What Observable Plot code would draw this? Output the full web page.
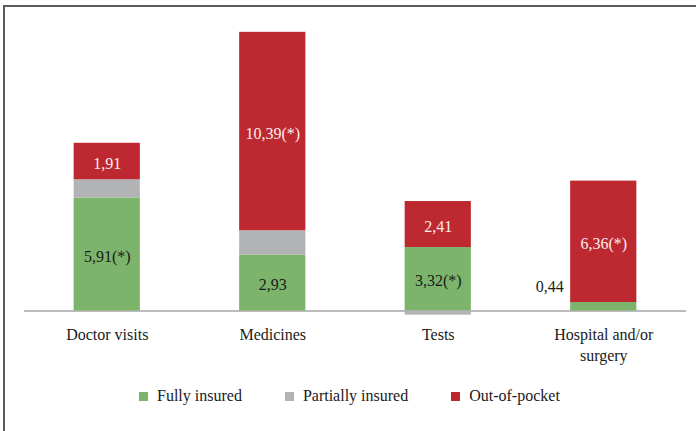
<!DOCTYPE html>
<html><head><meta charset="utf-8">
<script src="https://cdn.jsdelivr.net/npm/d3@7"></script>
<script src="https://cdn.jsdelivr.net/npm/@observablehq/plot@0.6"></script>
<style>
html,body{margin:0;padding:0;background:#fff;overflow:hidden;width:696px;height:431px;}
#frame{position:absolute;left:3px;top:5px;width:800px;height:800px;border-left:2px solid #5c5c5c;border-top:2px solid #5c5c5c;}
#chart{position:absolute;left:0;top:0;}
#legend{position:absolute;left:139px;top:386px;height:20px;display:flex;align-items:center;gap:43px;font:16px "Liberation Serif",serif;color:#1a1a1a;}
.item{display:flex;align-items:center;white-space:nowrap;}
.sw{width:9px;height:9px;margin-right:9px;}
</style></head><body>
<div id="frame"></div><div id="chart"></div><div id="legend"></div>
<script>
const categories = ["Doctor visits","Medicines","Tests","Hospital and/or surgery"];
const tickLabels = ["Doctor visits","Medicines","Tests","Hospital and/or\nsurgery"];
const series = ["Fully insured","Partially insured","Out-of-pocket"];
const colors = ["#7bb46a","#b2b3b5","#be2830"];
const fullyInsured = [5.91, 2.93, 3.32, 0.44];
const partiallyInsured = [0.96, 1.27, -0.22, 0];
const outOfPocket = [1.91, 10.39, 2.41, 6.36];
const fullyLabels = ["5,91(*)", "2,93", "3,32(*)", null];
const oopLabels = ["1,91", "10,39(*)", "2,41", "6,36(*)"];
const outsideLabels = [null, null, null, "0,44"];

const valuesBySeries = [fullyInsured, partiallyInsured, outOfPocket];
const labelsBySeries = [fullyLabels, [null,null,null,null], oopLabels];
const rows = [];
series.forEach((s, si) => {
  categories.forEach((c, ci) => {
    rows.push({category: c, series: s, value: valuesBySeries[si][ci],
      label: labelsBySeries[si][ci], outside: si === 0 ? outsideLabels[ci] : null});
  });
});

const plot = Plot.plot({
  width: 696, height: 370,
  marginLeft: 24, marginRight: 10, marginTop: 24, marginBottom: 50,
  style: {fontFamily: '"Liberation Serif", serif', fontSize: "16px", background: "transparent", color: "#1a1a1a"},
  x: {domain: categories, paddingInner: 0.6, paddingOuter: 0.3, round: false, axis: null},
  y: {domain: [-0.5, 15], axis: null},
  color: {domain: series, range: colors},
  marks: [
    Plot.ruleY([0], {stroke: "#a6a6a6", strokeWidth: 1.5}),
    Plot.barY(rows, {x: "category", y: "value", z: "series", fill: "series"}),
    Plot.text(rows, Plot.stackY({x: "category", y: "value", z: "series",
      text: d => d.series === series[0] ? d.label : null, fill: "#1a1a1a", dy: 2})),
    Plot.text(rows, Plot.stackY({x: "category", y: "value", z: "series",
      text: d => d.series === series[2] ? d.label : null, fill: "#fbeeee", dy: 2})),
    Plot.text(rows, {filter: d => d.outside, x: "category", y: "value", text: "outside",
      textAnchor: "end", dx: -40, dy: -16, fill: "#1a1a1a"}),
    Plot.text(categories, {x: d => d, y: d => 0, text: (d, i) => tickLabels[i],
      lineAnchor: "top", dy: 14, lineHeight: 1.3, fill: "#1a1a1a"})
  ]
});
document.getElementById("chart").appendChild(plot);

const legend = document.getElementById("legend");
series.forEach((s, i) => {
  const item = document.createElement("div");
  item.className = "item";
  const sw = document.createElement("span");
  sw.className = "sw";
  sw.style.background = colors[i];
  const t = document.createElement("span");
  t.textContent = s;
  item.appendChild(sw); item.appendChild(t);
  legend.appendChild(item);
});
</script>
</body></html>
